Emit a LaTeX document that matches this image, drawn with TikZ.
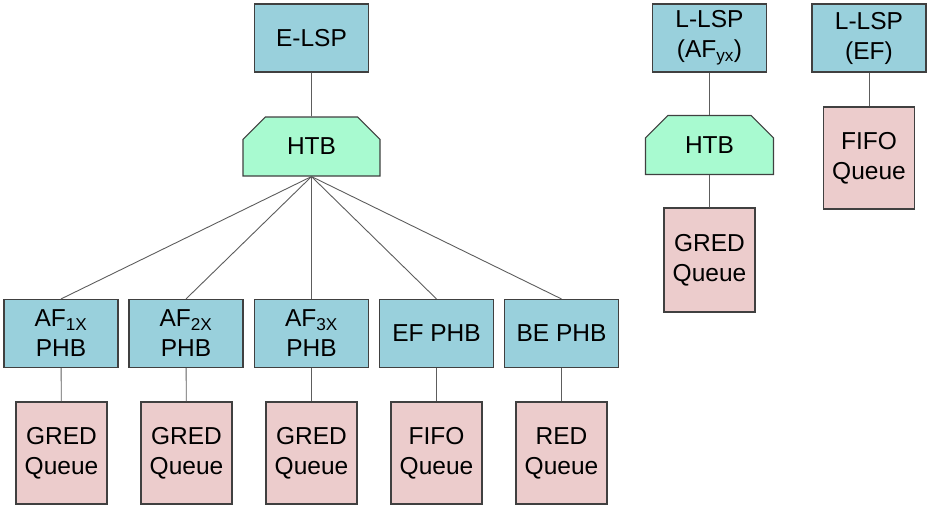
\documentclass[tikz,border=0pt]{standalone}
\usepackage{fontspec}
\setmainfont{Liberation Sans}
\usetikzlibrary{shapes.misc}
\definecolor{lspblue}{RGB}{153,208,220}
\definecolor{htbgreen}{RGB}{168,250,208}
\definecolor{qpink}{RGB}{236,204,204}
\definecolor{edgegray}{RGB}{64,64,64}
\begin{document}
\begin{tikzpicture}[x=1pt, y=-1pt,
		every node/.style={font=\fontsize{24.5}{30}\selectfont, align=center, inner sep=0pt},
		box/.style={draw=edgegray, line width=1.1pt, fill=lspblue, minimum width=114pt, minimum height=68pt},
		queue/.style={draw=edgegray, line width=1.1pt, fill=qpink, minimum width=91pt, minimum height=102pt},
		htb/.style={draw=edgegray, line width=1.1pt, fill=htbgreen, chamfered rectangle,
			chamfered rectangle corners={north west, north east},
			chamfered rectangle xsep=12pt, chamfered rectangle ysep=14pt,
			minimum height=59pt},
		link/.style={draw=edgegray!85, line width=0.9pt}]
		\useasboundingbox (0,0) rectangle (928,506);
		% E-LSP tree
		\draw (311.5,38) node[box] (E) {E-LSP};
		\draw (311.5,146.5) node[htb, minimum width=137pt] (H) {HTB};
		\draw (61,333.5) node[box] (P1) {AF\textsubscript{1X}\\PHB};
		\draw (186,333.5) node[box] (P2) {AF\textsubscript{2X}\\PHB};
		\draw (311.5,333.5) node[box] (P3) {AF\textsubscript{3X}\\PHB};
		\draw (436.5,333.5) node[box] (P4) {EF PHB};
		\draw (561.5,333.5) node[box] (P5) {BE PHB};
		\draw (61.5,453) node[queue] (Q1) {GRED\\Queue};
		\draw (186.5,453) node[queue] (Q2) {GRED\\Queue};
		\draw (311.5,453) node[queue] (Q3) {GRED\\Queue};
		\draw (436.5,453) node[queue] (Q4) {FIFO\\Queue};
		\draw (561.5,453) node[queue] (Q5) {RED\\Queue};
		\draw[link] (E) -- (H);
		\foreach \i in {1,...,5} {
			\draw[link] (H.south) -- (P\i.north);
			\draw[link] (P\i) -- (Q\i);
		}
		% L-LSP (AF)
		\draw (709.5,38) node[box] (LA) {L-LSP\\(AF\textsubscript{yx})};
		\draw (709.5,145) node[htb, minimum width=128pt] (HA) {HTB};
		\draw (709.5,260) node[queue, minimum height=104pt] (QA) {GRED\\Queue};
		\draw[link] (LA) -- (HA);
		\draw[link] (HA) -- (QA);
		% L-LSP (EF)
		\draw (869,38) node[box] (LE) {L-LSP\\(EF)};
		\draw (869,158) node[queue] (QE) {FIFO\\Queue};
		\draw[link] (LE) -- (QE);
	\end{tikzpicture}
\end{document}
